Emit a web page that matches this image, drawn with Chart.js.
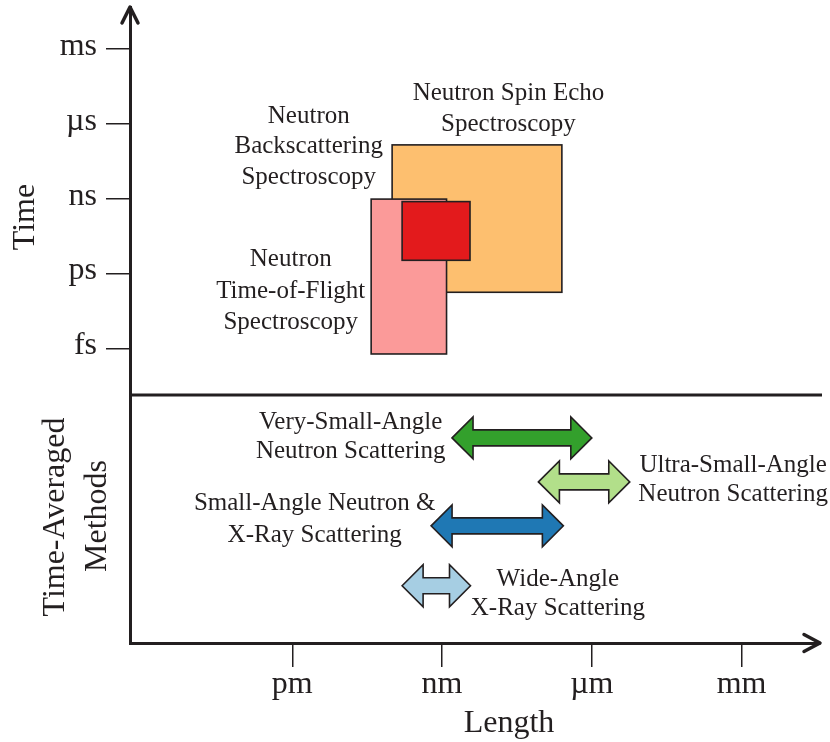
<!DOCTYPE html>
<html>
<head>
<meta charset="utf-8">
<script src="https://cdn.jsdelivr.net/npm/chart.js@4/dist/chart.umd.min.js"></script>
<style>
  html, body { margin: 0; padding: 0; background: #ffffff; }
  #wrap { width: 830px; height: 742px; }
</style>
</head>
<body>
<div id="wrap"><canvas id="c" width="830" height="742"></canvas></div>
<script>
// Horizontal axis: log10 of length in metres. Vertical axis (upper part): log10 of time in seconds.
const lengthTicks = [-12, -9, -6, -3];
const lengthLabels = ['pm', 'nm', 'µm', 'mm'];
const timeTicks = [-3, -6, -9, -12, -15];
const timeLabels = ['ms', 'µs', 'ns', 'ps', 'fs'];

// Spectroscopy techniques: length range and time range (log10 units)
const spectroNames = ['Neutron Spin Echo Spectroscopy', 'Neutron Time-of-Flight Spectroscopy', 'Neutron Backscattering Spectroscopy'];
const spectroLenMin = [-10.0, -10.42, -9.80];
const spectroLenMax = [-6.6, -8.91, -8.44];
const spectroTimeMin = [-12.73, -15.2, -11.45];
const spectroTimeMax = [-6.83, -9.0, -9.10];
const spectroColors = ['#fdbf6f', '#fb9a99', '#e31a1c'];

// Time-averaged scattering methods: length range
const methodNames = ['Very-Small-Angle Neutron Scattering', 'Ultra-Small-Angle Neutron Scattering', 'Small-Angle Neutron & X-Ray Scattering', 'Wide-Angle X-Ray Scattering'];
const methodLenMin = [-8.80, -7.07, -9.22, -9.80];
const methodLenMax = [-6.0, -5.24, -6.57, -8.43];
const methodRow = [-18.56, -20.32, -22.08, -24.48];
const methodColors = ['#33a02c', '#b2df8a', '#1f78b4', '#a6cee3'];

// Boundary between time-resolved and time-averaged sections
const sectionDivide = -16.84;

const INK = '#231f20';
const SERIF = '"Liberation Serif", "Times New Roman", serif';

// Text labels placed in axis units
const labelBlocks = [
  { lines: ['Neutron Spin Echo', 'Spectroscopy'], x: -7.67, y: -5.33, lh: 31 },
  { lines: ['Neutron', 'Backscattering', 'Spectroscopy'], x: -11.67, y: -6.84, lh: 30.5 },
  { lines: ['Neutron', 'Time-of-Flight', 'Spectroscopy'], x: -12.03, y: -12.63, lh: 31.5 },
  { lines: ['Very-Small-Angle', 'Neutron Scattering'], x: -10.83, y: -18.47, lh: 29.5 },
  { lines: ['Ultra-Small-Angle', 'Neutron Scattering'], x: -3.17, y: -20.19, lh: 29 },
  { lines: ['Small-Angle Neutron &', 'X-Ray Scattering'], x: -11.55, y: -21.77, lh: 32 },
  { lines: ['Wide-Angle', 'X-Ray Scattering'], x: -6.68, y: -24.75, lh: 29 }
];

const diagramPlugin = {
  id: 'diagram',
  afterDatasetsDraw(chart) {
    const ctx = chart.ctx;
    const xs = chart.scales.x, ys = chart.scales.y;
    const area = chart.chartArea;
    ctx.save();

    // technique boxes
    for (let i = 0; i < spectroNames.length; i++) {
      const x0 = xs.getPixelForValue(spectroLenMin[i]);
      const x1 = xs.getPixelForValue(spectroLenMax[i]);
      const y0 = ys.getPixelForValue(spectroTimeMax[i]);
      const y1 = ys.getPixelForValue(spectroTimeMin[i]);
      ctx.fillStyle = spectroColors[i];
      ctx.fillRect(x0, y0, x1 - x0, y1 - y0);
      ctx.lineWidth = 1.6;
      ctx.strokeStyle = INK;
      ctx.strokeRect(x0, y0, x1 - x0, y1 - y0);
    }

    // double-headed arrows for the time-averaged methods
    const hl = 21, hh = 21, sh = 8;
    for (let i = 0; i < methodNames.length; i++) {
      const a = xs.getPixelForValue(methodLenMin[i]);
      const b = xs.getPixelForValue(methodLenMax[i]);
      const yc = ys.getPixelForValue(methodRow[i]);
      ctx.beginPath();
      ctx.moveTo(a, yc);
      ctx.lineTo(a + hl, yc - hh);
      ctx.lineTo(a + hl, yc - sh);
      ctx.lineTo(b - hl, yc - sh);
      ctx.lineTo(b - hl, yc - hh);
      ctx.lineTo(b, yc);
      ctx.lineTo(b - hl, yc + hh);
      ctx.lineTo(b - hl, yc + sh);
      ctx.lineTo(a + hl, yc + sh);
      ctx.lineTo(a + hl, yc + hh);
      ctx.closePath();
      ctx.fillStyle = methodColors[i];
      ctx.fill();
      ctx.lineWidth = 1.6;
      ctx.lineJoin = 'miter';
      ctx.strokeStyle = INK;
      ctx.stroke();
    }

    // section divider
    const yd = ys.getPixelForValue(sectionDivide);
    ctx.beginPath();
    ctx.moveTo(area.left, yd);
    ctx.lineTo(area.right + 2, yd);
    ctx.lineWidth = 3;
    ctx.strokeStyle = INK;
    ctx.stroke();

    // arrow heads on the axes
    ctx.lineWidth = 3.5;
    ctx.lineCap = 'round';
    ctx.lineJoin = 'round';
    ctx.beginPath();
    ctx.moveTo(area.left - 8, area.top + 16);
    ctx.lineTo(area.left, area.top);
    ctx.lineTo(area.left + 8, area.top + 16);
    ctx.stroke();
    ctx.beginPath();
    ctx.moveTo(area.right - 16, area.bottom - 8.5);
    ctx.lineTo(area.right, area.bottom);
    ctx.lineTo(area.right - 16, area.bottom + 8.5);
    ctx.stroke();

    // annotation text
    ctx.fillStyle = INK;
    ctx.font = '25px ' + SERIF;
    ctx.textAlign = 'center';
    ctx.textBaseline = 'alphabetic';
    labelBlocks.forEach(blk => {
      const cx = xs.getPixelForValue(blk.x);
      const cy = ys.getPixelForValue(blk.y);
      const n = blk.lines.length;
      blk.lines.forEach((t, k) => {
        const yy = cy - (n - 1) / 2 * blk.lh + k * blk.lh + 8;
        ctx.fillText(t, cx, yy);
      });
    });

    // axis titles
    ctx.font = '32px ' + SERIF;
    ctx.fillText('Length', 509, 732);
    const rot = (t, bx, cy) => {
      ctx.save();
      ctx.translate(bx, cy);
      ctx.rotate(-Math.PI / 2);
      ctx.fillText(t, 0, 0);
      ctx.restore();
    };
    rot('Time', 34, 217);
    rot('Time-Averaged', 64, 517);
    rot('Methods', 106, 516);

    ctx.restore();
  }
};

new Chart(document.getElementById('c'), {
  type: 'scatter',
  data: { datasets: [] },
  options: {
    responsive: false,
    animation: false,
    devicePixelRatio: 1,
    layout: { padding: { top: 7, right: 10, left: 0, bottom: 0 } },
    plugins: { legend: { display: false }, tooltip: { enabled: false } },
    scales: {
      x: {
        type: 'linear',
        min: -15.25,
        max: -1.43,
        afterBuildTicks: s => { s.ticks = lengthTicks.map(v => ({ value: v })); },
        afterFit: s => { s.height = 99; s.paddingLeft = 0; s.paddingRight = 0; },
        ticks: {
          autoSkip: false,
          maxRotation: 0,
          padding: -2,
          color: INK,
          font: { family: SERIF, size: 32 },
          callback: (v, i) => lengthLabels[i]
        },
        grid: { drawOnChartArea: false, drawTicks: true, tickLength: 24, color: INK, lineWidth: 1.5 },
        border: { display: true, width: 3, color: INK }
      },
      y: {
        type: 'linear',
        min: -26.77,
        max: -1.31,
        afterBuildTicks: s => { s.ticks = timeTicks.map(v => ({ value: v })); },
        afterFit: s => { s.width = 130; s.paddingTop = 0; s.paddingBottom = 0; },
        ticks: {
          autoSkip: false,
          padding: 9,
          labelOffset: -3,
          color: INK,
          font: { family: SERIF, size: 32 },
          callback: (v, i) => timeLabels[i]
        },
        grid: { drawOnChartArea: false, drawTicks: true, tickLength: 24, color: INK, lineWidth: 1.5 },
        border: { display: true, width: 3, color: INK }
      }
    }
  },
  plugins: [diagramPlugin]
});
</script>
</body>
</html>
